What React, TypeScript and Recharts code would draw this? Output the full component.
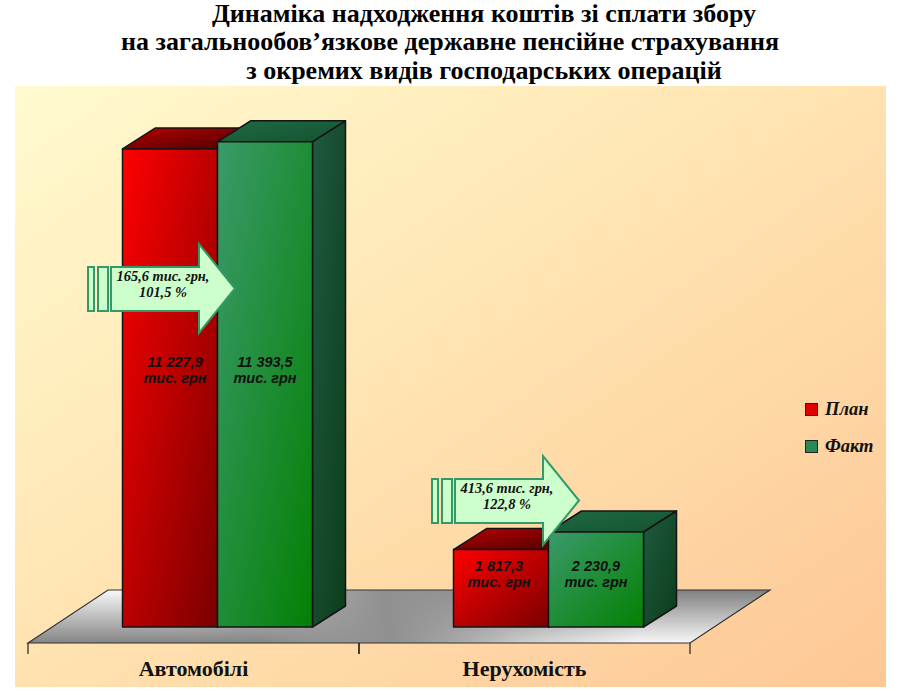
import { BarChart, Bar, XAxis, YAxis, Legend, LabelList } from 'recharts';

const categories = ['Автомобілі', 'Нерухомість'];
const planValues = [11227.9, 1817.3];
const factValues = [11393.5, 2230.9];
const planLabels = ['11 227,9', '1 817,3'];
const factLabels = ['11 393,5', '2 230,9'];
const deltaLines = [
  ['165,6 тис. грн,', '101,5 %'],
  ['413,6 тис. грн,', '122,8 %'],
];
const titleLines = [
  'Динаміка надходження коштів зі сплати збору',
  'на загальнообов’язкове державне пенсійне страхування',
  'з окремих видів господарських операцій',
];

const chartData = categories.map((name, i) => ({
  name,
  plan: planValues[i],
  fact: factValues[i],
  planLabel: planLabels[i],
  factLabel: factLabels[i],
}));

const SERIF = '"Liberation Serif", serif';
const SANS = '"Liberation Sans", sans-serif';
const W = 900;
const H = 695;
const BAND = 331;
const DEPTH_X = 33;
const DEPTH_Y = 21;
// bars stand back from the front edge of the floor
const FLOOR_DX = 23.5;
const FLOOR_DY = 16;
const LABEL_BASELINE = [367, 571];
const PLAN_LABEL_SHIFT = [5, -2];

function gradientIds(kind: string) {
  return { front: `${kind}Front`, top: `${kind}Top`, side: `${kind}Side` };
}

function Box3D(props: any) {
  const { x, y, width, height, kind } = props;
  const ids = gradientIds(kind);
  const left = x + FLOOR_DX;
  const top = y - FLOOR_DY;
  const right = left + width;
  const bottom = top + height;
  const stroke = { stroke: '#141414', strokeWidth: 1.5, strokeLinejoin: 'round' as const };
  return (
    <g>
      <path
        d={`M${left},${top} L${left + DEPTH_X},${top - DEPTH_Y} L${right + DEPTH_X},${top - DEPTH_Y} L${right},${top} Z`}
        fill={`url(#${ids.top})`}
        {...stroke}
      />
      <path
        d={`M${right},${top} L${right + DEPTH_X},${top - DEPTH_Y} L${right + DEPTH_X},${bottom - DEPTH_Y} L${right},${bottom} Z`}
        fill={`url(#${ids.side})`}
        {...stroke}
      />
      <rect x={left} y={top} width={width} height={height} fill={`url(#${ids.front})`} {...stroke} />
    </g>
  );
}

function BarValueLabel(props: any) {
  const { x, width, index, value, shift } = props;
  const cx = x + FLOOR_DX + width / 2 + (shift ? shift[index] : 0);
  const baseline = LABEL_BASELINE[index];
  return (
    <text
      textAnchor="middle"
      fontFamily={SANS}
      fontSize={14.5}
      fontWeight={700}
      fontStyle="italic"
      fill="#111"
    >
      <tspan x={cx} y={baseline}>{value}</tspan>
      <tspan x={cx} y={baseline + 16}>тис. грн</tspan>
    </text>
  );
}

function CategoryTick(props: any) {
  const { x, y, payload } = props;
  const axisY = y - 6;
  return (
    <g>
      <path
        d={`M${x - BAND / 2},${axisY} v11 M${x + BAND / 2},${axisY} v11`}
        stroke="#222"
        strokeWidth={1.2}
        fill="none"
      />
      <text x={x} y={axisY + 33} textAnchor="middle" fontFamily={SERIF} fontSize={22} fontWeight={700} fill="#111">
        {payload.value}
      </text>
    </g>
  );
}

function LegendBox({ payload }: any) {
  return (
    <div>
      {(payload ?? []).map((item: any) => (
        <div key={item.value} style={{ display: 'flex', alignItems: 'center', height: 37 }}>
          <span
            style={{
              width: 11,
              height: 11,
              background: item.color,
              border: '1px solid #222',
              marginRight: 7,
            }}
          />
          <span style={{ fontFamily: SERIF, fontWeight: 700, fontStyle: 'italic', fontSize: 18.5, color: '#111' }}>
            {item.value}
          </span>
        </div>
      ))}
    </div>
  );
}

function Arrow({ dx, dy, lines }: { dx: number; dy: number; lines: string[] }) {
  const s = { fill: '#ccffcc', stroke: '#339966', strokeWidth: 2 };
  return (
    <g transform={`translate(${dx},${dy})`}>
      <rect x={88} y={267} width={6} height={44} {...s} />
      <rect x={98} y={267} width={10} height={44} {...s} />
      <path d="M111,267 H199 V244 L235,288.5 L199,333 V311 H111 Z" {...s} />
      <text
        textAnchor="middle"
        fontFamily={SERIF}
        fontSize={14.4}
        fontWeight={700}
        fontStyle="italic"
        fill="#111"
      >
        <tspan x={163} y={281}>{lines[0]}</tspan>
        <tspan x={163} y={297}>{lines[1]}</tspan>
      </text>
    </g>
  );
}

function Diag({ id, from, to }: { id: string; from: string; to: string }) {
  return (
    <linearGradient id={id} x1="0" y1="0" x2="1" y2="1">
      <stop offset="0" stopColor={from} />
      <stop offset="1" stopColor={to} />
    </linearGradient>
  );
}

const FLOOR_PATH = 'M28,643 L108,590 L770,590 L690,643 Z';

export default function App() {
  return (
    <div style={{ position: 'absolute', left: 0, top: 0, width: W, height: H, background: '#fff' }}>
      <svg width={W} height={H} style={{ position: 'absolute', left: 0, top: 0 }}>
        <defs>
          <linearGradient id="panelBg" x1="0" y1="0" x2="1" y2="1">
            <stop offset="0" stopColor="#fffbcf" />
            <stop offset="0.5" stopColor="#ffe2b0" />
            <stop offset="1" stopColor="#fdc795" />
          </linearGradient>
          <linearGradient id="floorLeft" x1="0" y1="0" x2="0" y2="1">
            <stop offset="0" stopColor="#f8f8f8" />
            <stop offset="1" stopColor="#858585" />
          </linearGradient>
          <linearGradient id="floorRight" x1="0" y1="0" x2="0" y2="1">
            <stop offset="0" stopColor="#808080" />
            <stop offset="1" stopColor="#f8f8f8" />
          </linearGradient>
          <linearGradient id="floorFade" gradientUnits="userSpaceOnUse" x1="260" y1="0" x2="520" y2="0">
            <stop offset="0" stopColor="#000" />
            <stop offset="1" stopColor="#fff" />
          </linearGradient>
          <linearGradient id="floorBand" gradientUnits="userSpaceOnUse" x1="180" y1="0" x2="640" y2="0">
            <stop offset="0" stopColor="#888" stopOpacity="0" />
            <stop offset="0.45" stopColor="#888" stopOpacity="0.85" />
            <stop offset="1" stopColor="#888" stopOpacity="0" />
          </linearGradient>
          <mask id="floorMask" maskUnits="userSpaceOnUse" x="0" y="0" width={W} height={H}>
            <rect x={0} y={0} width={W} height={H} fill="url(#floorFade)" />
          </mask>
        </defs>
        <rect x={15} y={86} width={871} height={601} fill="url(#panelBg)" />
        <path d={FLOOR_PATH} fill="url(#floorLeft)" />
        <path d={FLOOR_PATH} fill="url(#floorRight)" mask="url(#floorMask)" />
        <path d={FLOOR_PATH} fill="url(#floorBand)" />
        <path d={FLOOR_PATH} fill="none" stroke="#333" strokeWidth={1.2} />
        {titleLines.map((line, i) => (
          <text
            key={line}
            x={[484, 450, 484][i]}
            y={[22, 50, 79][i]}
            textAnchor="middle"
            fontFamily={SERIF}
            fontSize={26}
            fontWeight={700}
            fill="#000"
          >
            {line}
          </text>
        ))}
      </svg>

      <div style={{ position: 'absolute', left: 0, top: 0 }}>
        <BarChart
          width={W}
          height={H}
          data={chartData}
          barSize={95}
          barGap={0}
          margin={{ top: 132, right: 210, bottom: 0, left: 28 }}
        >
          <defs>
            <Diag id="planFront" from="#ff0000" to="#7a0000" />
            <Diag id="planTop" from="#b80000" to="#4a0000" />
            <Diag id="planSide" from="#a80000" to="#4a0000" />
            <Diag id="factFront" from="#3a9a6a" to="#048004" />
            <Diag id="factTop" from="#1e6a44" to="#155230" />
            <Diag id="factSide" from="#1f5a40" to="#0c3d1a" />
          </defs>
          <XAxis
            dataKey="name"
            axisLine={false}
            tickLine={false}
            tickMargin={0}
            height={52}
            tick={<CategoryTick />}
            interval={0}
          />
          <YAxis hide domain={[0, 12000]} width={0} />
          <Bar
            dataKey="plan"
            name="План"
            fill="#e00000"
            isAnimationActive={false}
            shape={(p: any) => <Box3D {...p} kind="plan" />}
          >
            <LabelList dataKey="planLabel" content={<BarValueLabel shift={PLAN_LABEL_SHIFT} />} />
          </Bar>
          <Bar
            dataKey="fact"
            name="Факт"
            fill="#2a8a55"
            isAnimationActive={false}
            shape={(p: any) => <Box3D {...p} kind="fact" />}
          >
            <LabelList dataKey="factLabel" content={<BarValueLabel />} />
          </Bar>
          <Legend
            layout="vertical"
            align="center"
            verticalAlign="middle"
            content={<LegendBox />}
            wrapperStyle={{ position: 'absolute', left: 805, top: 391, width: 90, bottom: 'auto' }}
          />
        </BarChart>
      </div>

      <svg width={W} height={H} style={{ position: 'absolute', left: 0, top: 0, pointerEvents: 'none' }}>
        <Arrow dx={0} dy={0} lines={deltaLines[0]} />
        <Arrow dx={344} dy={212} lines={deltaLines[1]} />
      </svg>
    </div>
  );
}
